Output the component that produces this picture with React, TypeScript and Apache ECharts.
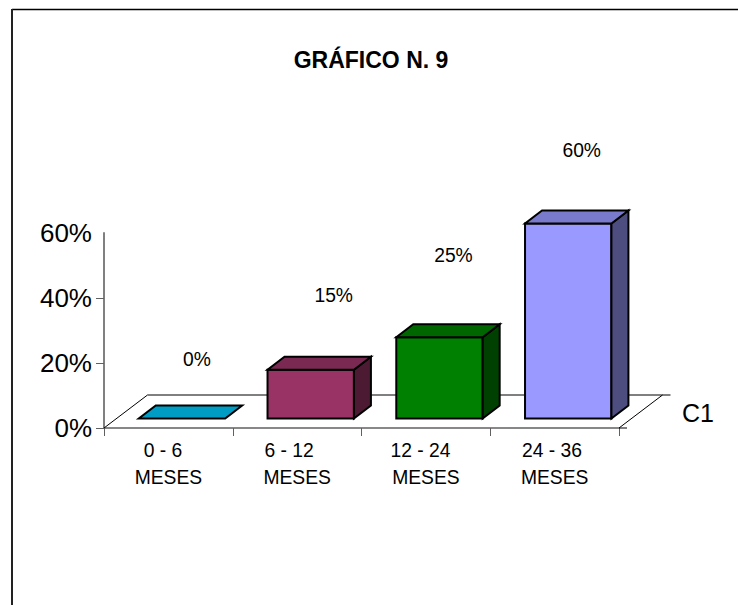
import React, { useEffect, useRef } from "react";
import * as echarts from "echarts";

const TITLE = "GRÁFICO N. 9";
const SERIES_NAME = "C1";
const categories = ["0 - 6  \nMESES", "6 - 12   \nMESES", "12 - 24  \nMESES", "24 - 36 \nMESES"];
const values = [0, 15, 25, 60];
const valueTicks = [0, 20, 40, 60];
const tickedValues = [0, 20, 40];

const frontColors = ["#009CC4", "#993366", "#008000", "#9999FF"];
const topColors = ["#009CC4", "#7A2952", "#006600", "#7A7ACC"];
const sideColors = ["#004E62", "#4D1A33", "#004000", "#4D4D80"];

// label nudges relative to the bar's top-back corner centre (picture layout, not data)
const labelDx = [15, 23, 14, 13.5];
const labelDy = [-46, -61, -69, -60];

const FONT = '"Liberation Sans", Arial, sans-serif';
const DEPTH_X = 17;
const DEPTH_Y = 13;
const BASE_SHIFT_X = 13.6;
const BASE_SHIFT_Y = 9.5;
const BAR_RATIO = 0.671;

export default function App() {
  const ref = useRef<HTMLDivElement>(null);
  useEffect(() => {
    const chart = echarts.init(ref.current!, undefined, { renderer: "svg" });
    chart.setOption({
      animation: false,
      backgroundColor: "#ffffff",
      title: {
        text: TITLE,
        left: 366,
        top: 43.5,
        textAlign: "center",
        textStyle: { fontFamily: FONT, fontSize: 23, fontWeight: "bold", color: "#000" },
      },
      grid: { left: 104, top: 233, width: 515, height: 195 },
      xAxis: {
        type: "category",
        data: categories,
        boundaryGap: true,
        axisLine: { lineStyle: { color: "#606060", width: 1.5 } },
        axisTick: { show: true, length: 8, lineStyle: { color: "#606060", width: 1 } },
        axisLabel: {
          interval: 0,
          margin: 9,
          fontFamily: FONT,
          fontSize: 19.3,
          lineHeight: 27,
          color: "#000",
        },
      },
      yAxis: {
        type: "value",
        min: valueTicks[0],
        max: valueTicks[valueTicks.length - 1],
        interval: 20,
        splitLine: { show: false },
        axisLine: { show: true, lineStyle: { color: "#808080", width: 2 } },
        axisTick: { show: true, length: 8, customValues: tickedValues, lineStyle: { color: "#606060", width: 1 } },
        axisLabel: {
          margin: 12,
          formatter: "{value}%",
          fontFamily: FONT,
          fontSize: 26,
          color: "#000",
        },
      },
      series: [
        {
          type: "custom",
          name: "floor",
          silent: true,
          clip: false,
          z: 1,
          data: [[0, 0]],
          encode: { x: 0, y: 1 },
          renderItem: (params: any) => {
            const { x, y, width, height } = params.coordSys;
            const x0 = x;
            const y0 = y + height;
            const dx = 43.5;
            const dy = 33;
            const line = (x1: number, y1: number, x2: number, y2: number) => ({
              type: "line",
              shape: { x1, y1, x2, y2 },
              style: { stroke: "#000", lineWidth: 1 },
            });
            return {
              type: "group",
              children: [
                line(x0, y0, x0 + dx, y0 - dy),
                line(x0 + dx, y0 - dy, x0 + width + dx + 8, y0 - dy),
                line(x0 + width, y0, x0 + width + dx, y0 - dy),
                line(x0 + width, y0, x0 + width + 8, y0),
              ],
            };
          },
        },
        {
          type: "custom",
          name: SERIES_NAME,
          clip: false,
          z: 2,
          data: values.map((v, i) => [i, v]),
          encode: { x: 0, y: 1 },
          renderItem: (params: any, api: any) => {
            const i = api.value(0);
            const v = api.value(1);
            const w = api.size([1, 0])[0] * BAR_RATIO;
            const [cx, yTop0] = api.coord([i, v]);
            const [, yBase0] = api.coord([i, 0]);
            const l = cx + BASE_SHIFT_X - w / 2;
            const r = l + w;
            const top = yTop0 - BASE_SHIFT_Y;
            const base = yBase0 - BASE_SHIFT_Y;
            const poly = (points: number[][], fill: string) => ({
              type: "polygon",
              shape: { points },
              style: { fill, stroke: "#000", lineWidth: 2, lineJoin: "miter" },
            });
            const children: any[] = [];
            if (v > 0) {
              children.push(poly([[l, base], [r, base], [r, top], [l, top]], frontColors[i]));
              children.push(
                poly([[r, base], [r + DEPTH_X, base - DEPTH_Y], [r + DEPTH_X, top - DEPTH_Y], [r, top]], sideColors[i]),
              );
            }
            children.push(
              poly([[l, top], [r, top], [r + DEPTH_X, top - DEPTH_Y], [l + DEPTH_X, top - DEPTH_Y]], topColors[i]),
            );
            children.push({
              type: "text",
              style: {
                text: `${v}%`,
                x: (l + r) / 2 + labelDx[i],
                y: top - DEPTH_Y + labelDy[i],
                align: "center",
                verticalAlign: "middle",
                fontFamily: FONT,
                fontSize: 19.3,
                fill: "#000",
              },
            });
            return { type: "group", children };
          },
        },
      ],
      graphic: [
        { type: "line", shape: { x1: 12, y1: 9.5, x2: 738, y2: 9.5 }, style: { stroke: "#000", lineWidth: 1.5 } },
        { type: "line", shape: { x1: 12, y1: 9, x2: 12, y2: 605 }, style: { stroke: "#222", lineWidth: 2 } },
        {
          type: "text",
          x: 698,
          y: 413,
          style: {
            text: SERIES_NAME,
            align: "center",
            verticalAlign: "middle",
            fontFamily: FONT,
            fontSize: 25,
            fill: "#000",
          },
        },
      ],
    });
    return () => chart.dispose();
  }, []);
  return <div ref={ref} style={{ position: "fixed", left: 0, top: 0, width: 738, height: 605 }} />;
}
